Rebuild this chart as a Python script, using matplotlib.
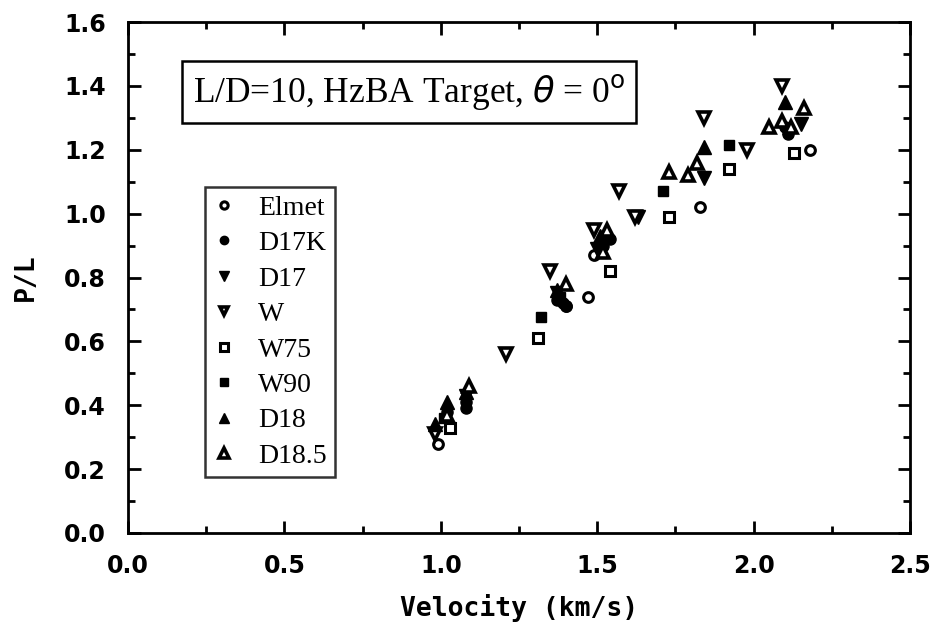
import matplotlib
matplotlib.use("Agg")
import matplotlib.pyplot as plt
from matplotlib.ticker import MultipleLocator, FormatStrFormatter

# ---------------- data ----------------
elmet_v = [0.99, 1.40, 1.47, 1.49, 1.83, 2.18]
elmet_p = [0.28, 0.71, 0.74, 0.87, 1.02, 1.20]

d17k_v = [1.02, 1.08, 1.08, 1.37, 1.39, 1.40, 1.52, 1.54, 2.11, 2.10]
d17k_p = [0.38, 0.39, 0.41, 0.73, 0.72, 0.71, 0.90, 0.92, 1.25, 1.27]

d17_v = [1.08, 1.37, 1.50, 1.63, 1.84, 2.15]
d17_p = [0.43, 0.75, 0.89, 0.99, 1.11, 1.28]

w_v = [0.98, 1.21, 1.35, 1.49, 1.57, 1.62, 1.84, 1.98, 2.09]
w_p = [0.31, 0.56, 0.82, 0.95, 1.07, 0.99, 1.30, 1.20, 1.40]

w75_v = [1.03, 1.31, 1.54, 1.73, 1.92, 2.13]
w75_p = [0.33, 0.61, 0.82, 0.99, 1.14, 1.19]

w90_v = [1.01, 1.32, 1.38, 1.71, 1.92]
w90_p = [0.36, 0.675, 0.74, 1.07, 1.215]

d18_v = [0.98, 1.02, 1.08, 1.37, 1.51, 1.84, 2.10]
d18_p = [0.34, 0.41, 0.44, 0.76, 0.93, 1.21, 1.35]

d185_v = [1.02, 1.09, 1.40, 1.52, 1.53, 1.73, 1.79, 1.82, 2.05, 2.09, 2.12, 2.16]
d185_p = [0.37, 0.46, 0.78, 0.88, 0.95, 1.13, 1.12, 1.16, 1.27, 1.29, 1.27, 1.33]

labels = ["Elmet", "D17K", "D17", "W", "W75", "W90", "D18", "D18.5"]

title_text = r"L/D=10, HzBA Target, $\theta$ = 0$^{\mathrm{o}}$"

# ---------------- figure ----------------
fig = plt.figure(figsize=(9.35, 6.37), dpi=100)
ax = fig.add_axes([128/935, 1-533/637, (910-128)/935, (533-22)/637])

series = [
    (elmet_v, elmet_p, dict(marker="o", ms=7, mfc="white", mec="black", mew=2.2)),
    (d17k_v, d17k_p, dict(marker="o", ms=8, mfc="black", mec="black", mew=1)),
    (d17_v, d17_p, dict(marker="v", ms=10, mfc="black", mec="black", mew=1)),
    (w_v, w_p, dict(marker="v", ms=8, mfc="white", mec="black", mew=2.6)),
    (w75_v, w75_p, dict(marker="s", ms=7, mfc="white", mec="black", mew=2.2)),
    (w90_v, w90_p, dict(marker="s", ms=7, mfc="black", mec="black", mew=1)),
    (d18_v, d18_p, dict(marker="^", ms=10, mfc="black", mec="black", mew=1)),
    (d185_v, d185_p, dict(marker="^", ms=9, mfc="white", mec="black", mew=2.6)),
]
for (xv, yv, st), lab in zip(series, labels):
    ax.plot(xv, yv, linestyle="none", label=lab, **st)

ax.set_xlim(0, 2.5)
ax.set_ylim(0, 1.6)
ax.xaxis.set_major_locator(MultipleLocator(0.5))
ax.xaxis.set_minor_locator(MultipleLocator(0.25))
ax.yaxis.set_major_locator(MultipleLocator(0.2))
ax.yaxis.set_minor_locator(MultipleLocator(0.1))
ax.xaxis.set_major_formatter(FormatStrFormatter("%.1f"))
ax.yaxis.set_major_formatter(FormatStrFormatter("%.1f"))
ax.tick_params(which="both", direction="in", top=True, right=True, width=2)
ax.tick_params(which="major", length=9)
ax.tick_params(axis="x", which="major", pad=15)
ax.tick_params(axis="y", which="major", pad=16)
ax.tick_params(which="minor", length=5)
for s in ax.spines.values():
    s.set_linewidth(2)

for lab in ax.get_xticklabels() + ax.get_yticklabels():
    lab.set_fontfamily("DejaVu Sans")
    lab.set_fontweight("bold")
    lab.set_fontsize(17)

ax.set_xlabel("Velocity (km/s)", family="DejaVu Sans Mono", weight="bold",
              size=19, labelpad=12)
ax.set_ylabel("P/L", family="DejaVu Sans Mono", weight="bold", size=19,
              labelpad=18)

fig.text((175+643)/2/935, 1-92/637, title_text, ha="center", va="center",
         family="Liberation Serif", size=25.5,
         bbox=dict(boxstyle="square,pad=0.3", fc="white", ec="black", lw=1.8))

leg = ax.legend(loc="upper left", bbox_to_anchor=((205-128)/782, (533-187)/511),
                prop=dict(family="Liberation Serif", size=20),
                frameon=True, fancybox=False, edgecolor="black",
                handlelength=0.8, handletextpad=0.8, labelspacing=0.36,
                borderpad=0.3, borderaxespad=0, markerscale=0.75)
leg.get_frame().set_linewidth(1.8)

fig.savefig("out.png", dpi=100)
